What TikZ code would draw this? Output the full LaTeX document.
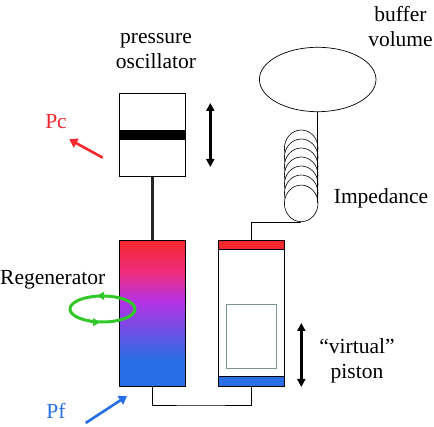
\documentclass[tikz,border=0pt]{standalone}
\usepackage{fontspec}
\setmainfont{Liberation Serif}
\usepackage{tikz}
\usetikzlibrary{arrows.meta,shapes.geometric}
\definecolor{hotred}{RGB}{245,40,45}
\definecolor{coldblue}{RGB}{40,110,228}
\definecolor{midpurple}{RGB}{180,50,230}
\definecolor{hotpink}{RGB}{238,45,125}
\definecolor{loopgreen}{RGB}{50,200,40}
\definecolor{wallgray}{RGB}{120,150,150}
\pgfdeclareverticalshading{regenshade}{100bp}{
  color(0bp)=(coldblue); color(34bp)=(coldblue); color(54bp)=(midpurple);
  color(64bp)=(hotpink); color(75bp)=(hotred); color(100bp)=(hotred)}
\begin{document}
\begin{tikzpicture}[
  x=1pt, y=-1pt,
  wall/.style={draw, line width=1pt, inner sep=0pt, minimum width=66pt},
  capbar/.style={wall, minimum height=9.5pt},
  coilring/.style={draw, ellipse, fill=white, line width=.6pt, inner sep=0pt,
    minimum width=33.6pt, minimum height=36.6pt},
  caption/.style={align=center, inner sep=0pt, font=\fontsize{21.5}{25}\selectfont},
  strokearrow/.style={{Triangle[length=8pt,width=8pt]}-{Triangle[length=8pt,width=8pt]}, line width=2.6pt, shorten <=-1pt, shorten >=-1pt},
  heatarrow/.style={-{Triangle[length=8pt,width=10pt]}, line width=2.6pt},
  tube/.style={line width=.9pt}
]
\useasboundingbox (0,0) rectangle (434,427);

\node[wall, minimum height=83.2pt] (oscillator) at (152.5,135.1) {};
\node[fill=black, inner sep=0pt, minimum width=66pt, minimum height=10pt] (piston) at (152.5,135) {};
\node[wall, minimum height=145.7pt, shading=regenshade] (regen) at (152.5,313.2) {};
\node[wall, minimum height=145.7pt] (cylinder) at (251.3,313.2) {};
\node[capbar, fill=hotred] (hotcap) at (251.3,245) {};
\node[capbar, fill=coldblue] (coldcap) at (251.3,381.3) {};
\node[draw=wallgray, line width=.8pt, inner sep=0pt, minimum width=50.2pt, minimum height=64pt] (gas) at (251.4,336.3) {};
\node[draw, ellipse, line width=.7pt, inner sep=0pt, minimum width=116.6pt, minimum height=64.4pt] (buffer) at (317.7,79.5) {};

\foreach \i/\y in {1/148.3,2/157.3,3/166.3,4/175.3,5/184.3,6/193.3,7/203.4}
  \node[coilring] (coil\i) at (301.2,\y) {};

\node[draw=loopgreen, ellipse, line width=3pt, inner sep=0pt, minimum width=65pt, minimum height=26pt] (flow) at (102.5,309) {};

\coordinate (pipemid) at (200,405);
\coordinate (strokeTop) at (210.3,104);
\coordinate (strokeBot) at (210.3,166);
\coordinate (virtualTop) at (301.3,324);
\coordinate (virtualBot) at (301.3,386);
\coordinate (pcFrom) at (102.7,157.7);
\coordinate (pcTo) at (69.3,139.3);
\coordinate (pfFrom) at (85.7,423);
\coordinate (pfTo) at (127,396);
\coordinate (flowTopA) at (106,295.8);
\coordinate (flowTopB) at (97,295.8);
\coordinate (flowBotA) at (90,322.2);
\coordinate (flowBotB) at (100,322.2);

\draw[line width=3pt, black!85] (oscillator.south) -- (regen.north);
\draw[tube] (regen.south) |- (pipemid) -| (cylinder.south);
\draw[tube] (buffer.south) -- (buffer.south |- coil7.east);
\draw[tube] (coil7.south) -| (cylinder.north);
\draw[strokearrow] (strokeTop) -- (strokeBot);
\draw[strokearrow] (virtualTop) -- (virtualBot);
\draw[heatarrow, hotred] (pcFrom) -- (pcTo);
\draw[heatarrow, coldblue] (pfFrom) -- (pfTo);
\draw[-{Triangle[length=7pt,width=8pt]}, loopgreen, line width=1pt] (flowTopA) -- (flowTopB);
\draw[-{Triangle[length=7pt,width=8pt]}, loopgreen, line width=1pt] (flowBotA) -- (flowBotB);

\node[caption] (oscLabel) at (156,51.5) {pressure\\oscillator};
\node[caption] (bufLabel) at (400.5,26.5) {buffer\\volume};
\node[caption] (impLabel) at (381,198) {Impedance};
\node[caption] (pistonLabel) at (357,360.5) {``virtual''\\piston};
\node[caption, anchor=west] (regLabel) at (0,279.5) {Regenerator};
\node[caption, text=hotred] (pcLabel) at (56,122) {Pc};
\node[caption, text=coldblue] (pfLabel) at (56,411) {Pf};
\end{tikzpicture}
\end{document}
